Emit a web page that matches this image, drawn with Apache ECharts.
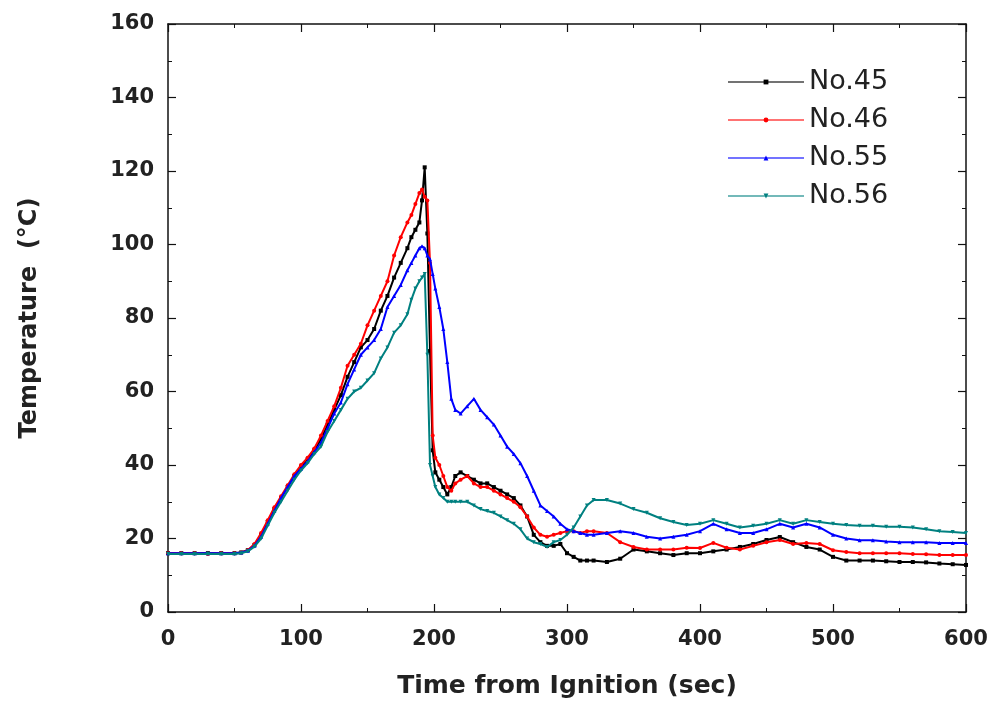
<!DOCTYPE html>
<html>
<head>
<meta charset="utf-8">
<script src="https://cdn.jsdelivr.net/npm/echarts@6/dist/echarts.min.js"></script>
<style>html,body{margin:0;padding:0;background:#fff;}#c{width:992px;height:710px;}</style>
</head>
<body>
<div id="c"></div>
<script>
const time = [0,10,20,30,40,50,55,
  60,65,70,75,80,85,90,95,100,105,110,115,120,125,130,135,140,145,150,155,160,165,170,175,180,
  183,186,189,
  191,193,195,197,199,201,
  204,207,210,213,216,
  220,225,230,235,240,245,250,255,260,265,270,275,280,285,290,295,300,305,310,315,320,
  330,340,350,360,370,380,390,400,410,420,430,440,450,460,470,480,490,500,510,520,530,540,550,560,570,580,590,600];

const no45 = [16,16,16,16,16,16,16.2,
  16.8,18.2,21,24.5,28,31,34,37,39.5,41.5,44,47,51,55,59,64,68,72,74,77,82,86,91,95,99,
  102,104,106,
  112,121,103,71,44,38,
  36,34,32,34,37,
  38,37,36,35,35,34,33,32,31,29,26,21,19,18,18,18.5,16,15,14,14,14,
  13.6,14.5,17,16.5,16,15.5,16,16,16.5,17,17.7,18.5,19.6,20.4,19,17.7,17,15,14,14,14,13.8,13.6,13.6,13.5,13.2,13,12.8];

const no46 = [16,16,16,15.8,16,16,16.2,
  16.8,18.5,21.5,25,28.5,31.5,34.5,37.5,40,42,44.5,48,52,56,61,67,70,73,78,82,86,90,97,102,106,
  108,111,114,
  115,113,112,95,48,42,
  40,37,34,33,35,
  36,37,35,34,34,33,32,31,30,28.5,26,23,21,20.5,21,21.5,22,22,21.5,22,22,
  21.5,19,17.7,17,17,17,17.5,17.4,18.8,17.5,17,18,19,19.6,18.5,18.8,18.5,16.8,16.3,16,16,16,16,15.8,15.7,15.5,15.5,15.5];

const no55 = [16,16,16,16,16,16,16.2,
  16.7,18,20.5,24,27.5,31,34,37,39,41,43.5,46,50,54,57,62,66,70,72,74,77,83,86,89,93,
  95,97,99,
  99.5,99,97,96,92,88,
  83,77,68,58,55,
  54,56,58,55,53,51,48,45,43,40.5,37,33,29,27.5,26,24,22.5,22,21.5,21,21,
  21.5,22,21.5,20.5,20,20.5,21,22,24,22.5,21.5,21.5,22.5,24,23,24,23,21,20,19.5,19.5,19.2,19,19,19,18.8,18.8,18.8];

const no56 = [15.8,15.8,15.8,15.8,15.8,15.8,16,
  16.5,17.8,20,23.5,27,30,33,36,38.5,40.5,43,45,49,52,55,58,60,61,63,65,69,72,76,78,81,
  85,88,90,
  91,92,70,40,37,34,
  32,31,30,30,30,
  30,30,29,28,27.5,27,26,25,24,22.5,20,19,18.5,17.7,19,19.6,21,23,26,29,30.5,
  30.5,29.5,28,27,25.5,24.5,23.7,24,25,24,23,23.5,24,25,24,25,24.5,24,23.7,23.5,23.5,23.2,23.2,23,22.5,22,21.8,21.5];

const seriesNames = ['No.45','No.46','No.55','No.56'];
const seriesData = [no45, no46, no55, no56];
const colors = ['#000000','#ff0000','#0000ff','#008080'];
const symbols = ['rect','circle','triangle','triangle'];
const rotations = [0,0,0,180];

const xTicks = [0,100,200,300,400,500,600];
const yTicks = [0,20,40,60,80,100,120,140,160];

const font = '"DejaVu Sans", sans-serif';
const chart = echarts.init(document.getElementById('c'), null, {renderer:'canvas'});

function axisCommon(){
  return {
    axisLine:{show:true, onZero:false, lineStyle:{color:'#111', width:1.5}},
    axisTick:{show:true, inside:true, length:8, lineStyle:{color:'#111', width:1.2}},
    minorTick:{show:true, splitNumber:2, length:4, lineStyle:{color:'#111', width:1}},
    splitLine:{show:false}
  };
}

chart.setOption({
  backgroundColor:'#fff',
  animation:false,
  grid:{left:168, right:26, top:24, bottom:98, containLabel:false},
  legend:{
    orient:'vertical', left:722, top:62, itemWidth:76, itemHeight:6, itemGap:8,
    data:seriesNames,
    lineStyle:{opacity:0.55, width:2},
    textStyle:{fontFamily:font, fontSize:27, color:'#222', lineHeight:30}
  },
  xAxis:[
    Object.assign({type:'value', min:xTicks[0], max:xTicks[xTicks.length-1], interval:100,
      name:'Time from Ignition (sec)', nameLocation:'middle', nameGap:62,
      nameTextStyle:{fontFamily:font, fontSize:25, fontWeight:'bold', color:'#222'},
      axisLabel:{fontFamily:font, fontSize:21, fontWeight:'bold', color:'#222', margin:17}}, axisCommon()),
    Object.assign({type:'value', position:'top', min:0, max:600, interval:100,
      axisLabel:{show:false}}, axisCommon())
  ],
  yAxis:[
    Object.assign({type:'value', min:yTicks[0], max:yTicks[yTicks.length-1], interval:20,
      name:'Temperature  (°C)', nameLocation:'middle', nameGap:126, nameRotate:90,
      nameTextStyle:{fontFamily:font, fontSize:24, fontWeight:'bold', color:'#222'},
      axisLabel:{fontFamily:font, fontSize:21, fontWeight:'bold', color:'#222', margin:14}}, axisCommon()),
    Object.assign({type:'value', position:'right', min:0, max:160, interval:20,
      axisLabel:{show:false}}, axisCommon())
  ],
  series: seriesNames.map((n,i)=>({
    name:n, type:'line',
    data: time.map((t,k)=>[t, seriesData[i][k]]),
    xAxisIndex:0, yAxisIndex:0,
    symbol:symbols[i], symbolRotate:rotations[i], symbolSize:4, showSymbol:true,
    itemStyle:{color:colors[i]},
    lineStyle:{color:colors[i], width:2},
    z:2+i
  }))
});
</script>
</body>
</html>
